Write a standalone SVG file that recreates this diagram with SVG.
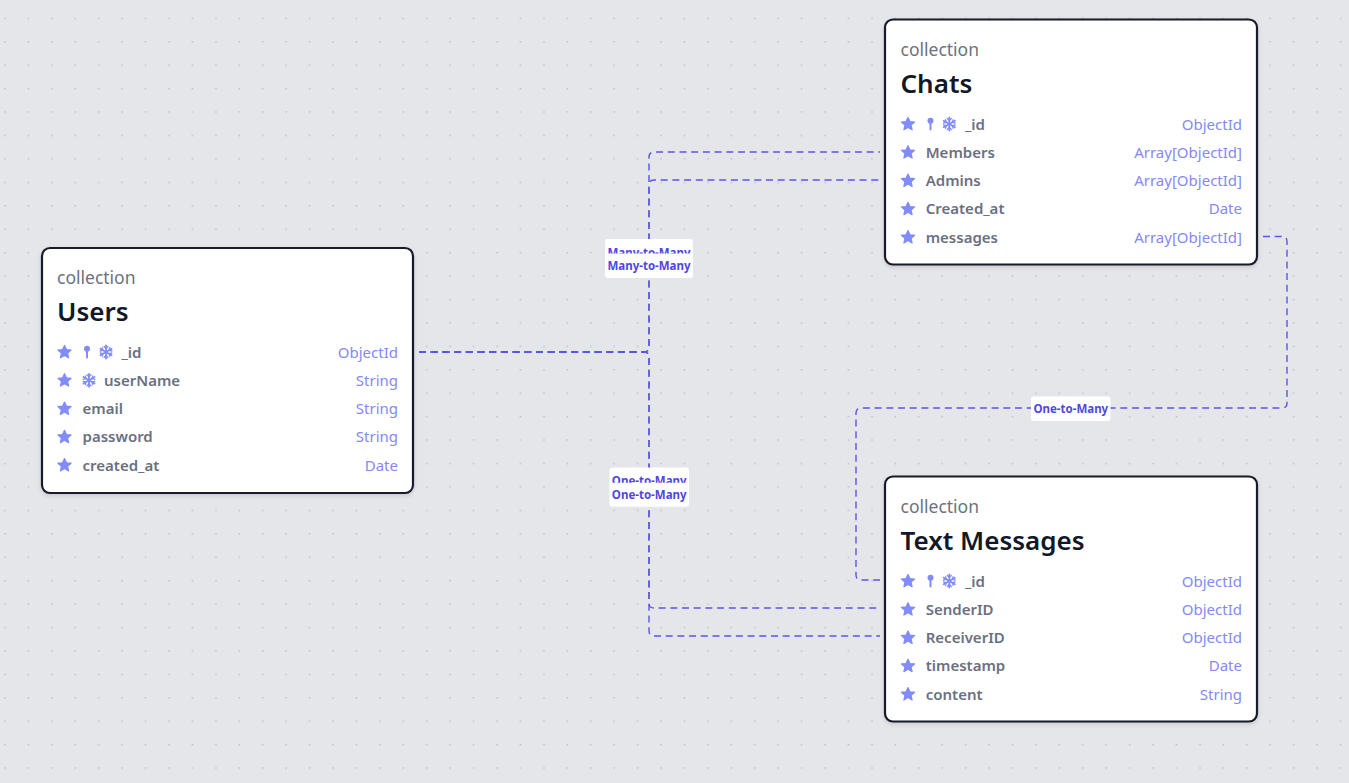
<svg xmlns="http://www.w3.org/2000/svg" width="1349" height="783" viewBox="0 0 1349 783">
<defs>
<pattern id="dots" width="23.43" height="23.43" patternUnits="userSpaceOnUse">
<rect x="4.4" y="17.7" width="1.3" height="1.3" fill="#afb2ba"/>
</pattern>
<filter id="sh" x="-5%" y="-5%" width="110%" height="115%">
<feDropShadow dx="0" dy="2" stdDeviation="2" flood-color="#000" flood-opacity="0.12"/>
</filter>
<g id="star"><polygon points="0,-6.6 2,-2.4 6.6,-2 3.1,1.1 4.1,5.8 0,3.4 -4.1,5.8 -3.1,1.1 -6.6,-2 -2,-2.4" fill="#818cf8" stroke="#818cf8" stroke-width="1.2" stroke-linejoin="round"/></g>
<g id="pin"><circle cx="0" cy="-3.2" r="3" fill="#818cf8"/><line x1="0" y1="-1" x2="0" y2="5.5" stroke="#818cf8" stroke-width="2" stroke-linecap="round"/></g>
<g id="snow" stroke="#818cf8" stroke-width="1.8" stroke-linecap="round" fill="none">
<line x1="0" y1="-6.5" x2="0" y2="6.5"/><line x1="-5.6" y1="-3.25" x2="5.6" y2="3.25"/><line x1="-5.6" y1="3.25" x2="5.6" y2="-3.25"/>
<path d="M-2,-5.5 L0,-3.5 L2,-5.5 M-2,5.5 L0,3.5 L2,5.5" stroke-width="1.3"/>
<path d="M-5.8,-1 L-3,-1.7 L-3.8,-4.4 M5.8,1 L3,1.7 L3.8,4.4 M-5.8,1 L-3,1.7 L-3.8,4.4 M5.8,-1 L3,-1.7 L3.8,-4.4" stroke-width="1.3"/>
</g>
</defs>
<style>
.bg{fill:#e5e6ea}
.card{fill:#ffffff;stroke:#161b2b;stroke-width:2.2}
.kind{font-family:"Noto Sans","Liberation Sans",sans-serif;font-size:17.5px;fill:#6b7280}
.title{font-family:"Noto Sans","Liberation Sans",sans-serif;font-size:26px;font-weight:600;fill:#111827}
.fname{font-family:"Noto Sans","Liberation Sans",sans-serif;font-size:15px;font-weight:600;fill:#6b7080}
.ftype{font-family:"Noto Sans","Liberation Sans",sans-serif;font-size:15px;fill:#8489f5;text-anchor:end}
.edge{fill:none;stroke:#5b56e3;stroke-width:1.4;stroke-dasharray:7 4.7}
.lbox{fill:#ffffff}
.ltext{font-family:"Noto Sans","Liberation Sans",sans-serif;font-size:11.5px;font-weight:700;fill:#4f46e5;text-anchor:middle}
</style>
<rect class="bg" x="0" y="0" width="1349" height="783"/>
<rect x="0" y="0" width="1349" height="783" fill="url(#dots)"/>

<g id="connectors">
<path class="edge" d="M419,352 H644 Q649,352 649,347 V157 Q649,152 654,152 H880"/>
<path class="edge" d="M419,352 H644 Q649,352 649,347 V185 Q649,180 654,180 H880"/>
<path class="edge" d="M419,352 H644 Q649,352 649,357 V603 Q649,608 654,608 H880"/>
<path class="edge" d="M419,352 H644 Q649,352 649,357 V631 Q649,636 654,636 H880"/>
<path class="edge" d="M1263,236.5 H1282 Q1287,236.5 1287,241.5 V403 Q1287,408 1282,408 H861 Q856,408 856,413 V575 Q856,580 861,580 H880"/>
<rect class="lbox" x="605" y="239" width="88" height="24" rx="3"/>
<text class="ltext" x="649" y="256.5">Many-to-Many</text>
<rect class="lbox" x="605" y="253.5" width="88" height="24.5" rx="3"/>
<text class="ltext" x="649" y="270">Many-to-Many</text>
<rect class="lbox" x="609.5" y="467.5" width="79.5" height="24" rx="3"/>
<text class="ltext" x="649.2" y="484.5">One-to-Many</text>
<rect class="lbox" x="609.5" y="482.7" width="79.5" height="24" rx="3"/>
<text class="ltext" x="649.2" y="498.5">One-to-Many</text>
<rect class="lbox" x="1031" y="396.5" width="79.5" height="24.5" rx="3"/>
<text class="ltext" x="1070.8" y="413">One-to-Many</text>
</g>

<g id="users" transform="translate(42,248)">
<rect class="card" x="0" y="0" width="371" height="245" rx="8" filter="url(#sh)"/>
<text class="kind" x="15" y="36">collection</text>
<text class="title" x="15" y="73">Users</text>
<use href="#star" x="22.5" y="104"/><use href="#pin" x="45" y="104"/><use href="#snow" x="64" y="104"/>
<text class="fname" x="79.5" y="109.5">_id</text><text class="ftype" x="356" y="109.5">ObjectId</text>
<use href="#star" x="22.5" y="132.3"/><use href="#snow" x="47" y="132.3"/>
<text class="fname" x="62" y="137.8">userName</text><text class="ftype" x="356" y="137.8">String</text>
<use href="#star" x="22.5" y="160.6"/>
<text class="fname" x="40.5" y="166.1">email</text><text class="ftype" x="356" y="166.1">String</text>
<use href="#star" x="22.5" y="188.9"/>
<text class="fname" x="40.5" y="194.4">password</text><text class="ftype" x="356" y="194.4">String</text>
<use href="#star" x="22.5" y="217.2"/>
<text class="fname" x="40.5" y="222.7">created_at</text><text class="ftype" x="356" y="222.7">Date</text>
</g>

<g id="chats" transform="translate(885,19.5)">
<rect class="card" x="0" y="0" width="372" height="245" rx="8" filter="url(#sh)"/>
<text class="kind" x="15.5" y="36">collection</text>
<text class="title" x="15.5" y="73">Chats</text>
<use href="#star" x="23" y="104.5"/><use href="#pin" x="45.5" y="104.5"/><use href="#snow" x="64.3" y="104.5"/>
<text class="fname" x="80" y="110">_id</text><text class="ftype" x="357" y="110">ObjectId</text>
<use href="#star" x="23" y="132.8"/>
<text class="fname" x="40.7" y="138.3">Members</text><text class="ftype" x="357" y="138.3">Array[ObjectId]</text>
<use href="#star" x="23" y="161.1"/>
<text class="fname" x="40.7" y="166.6">Admins</text><text class="ftype" x="357" y="166.6">Array[ObjectId]</text>
<use href="#star" x="23" y="189.4"/>
<text class="fname" x="40.7" y="194.9">Created_at</text><text class="ftype" x="357" y="194.9">Date</text>
<use href="#star" x="23" y="217.7"/>
<text class="fname" x="40.7" y="223.2">messages</text><text class="ftype" x="357" y="223.2">Array[ObjectId]</text>
</g>

<g id="text-messages" transform="translate(885,476.5)">
<rect class="card" x="0" y="0" width="372" height="245" rx="8" filter="url(#sh)"/>
<text class="kind" x="15.5" y="36">collection</text>
<text class="title" x="15.5" y="73">Text Messages</text>
<use href="#star" x="23" y="104.5"/><use href="#pin" x="45.5" y="104.5"/><use href="#snow" x="64.3" y="104.5"/>
<text class="fname" x="80" y="110">_id</text><text class="ftype" x="357" y="110">ObjectId</text>
<use href="#star" x="23" y="132.8"/>
<text class="fname" x="40.7" y="138.3">SenderID</text><text class="ftype" x="357" y="138.3">ObjectId</text>
<use href="#star" x="23" y="161.1"/>
<text class="fname" x="40.7" y="166.6">ReceiverID</text><text class="ftype" x="357" y="166.6">ObjectId</text>
<use href="#star" x="23" y="189.4"/>
<text class="fname" x="40.7" y="194.9">timestamp</text><text class="ftype" x="357" y="194.9">Date</text>
<use href="#star" x="23" y="217.7"/>
<text class="fname" x="40.7" y="223.2">content</text><text class="ftype" x="357" y="223.2">String</text>
</g>
</svg>
